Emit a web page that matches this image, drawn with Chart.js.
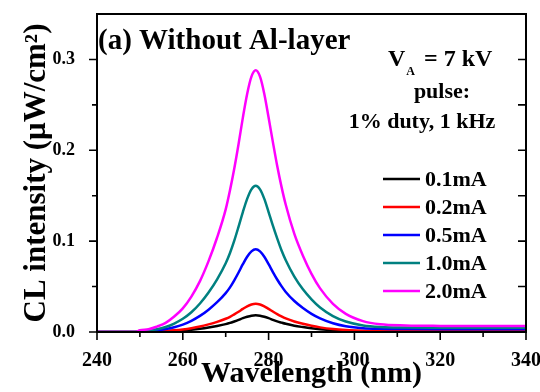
<!DOCTYPE html>
<html>
<head>
<meta charset="utf-8">
<script src="https://cdn.jsdelivr.net/npm/chart.js@4.4.1/dist/chart.umd.min.js"></script>
<style>
  html, body { margin: 0; padding: 0; background: #fff; }
  #wrap { width: 540px; height: 392px; position: relative; }
</style>
</head>
<body>
<div id="wrap"><canvas id="cl-chart"></canvas></div>
<script>
// Wavelength samples (nm)
var wavelengths = [240, 249, 250, 252, 254, 256, 258, 260, 262, 264, 266, 268, 270, 271, 272, 273, 274, 275, 276, 277,
  278, 279, 280, 281, 282, 283, 284, 286, 288, 290, 292, 295, 298, 302, 306, 312, 320, 330, 340];

// CL intensity (uW/cm^2)
var current01 = [0, 0, 0, 0.0002, 0.0004, 0.0006, 0.0011, 0.0017, 0.0025, 0.0036, 0.005, 0.0067, 0.0087, 0.01, 0.0116, 0.0133, 0.0152, 0.0168, 0.018, 0.0185,
  0.018, 0.0168, 0.0152, 0.0134, 0.0117, 0.0103, 0.009, 0.0069, 0.0054, 0.0041, 0.0031, 0.002, 0.0013, 0.0008, 0.0006, 0.0005, 0.0004, 0.0004, 0.0004];
var current02 = [0, 0, 0, 0.0003, 0.0006, 0.0011, 0.0018, 0.0028, 0.0042, 0.006, 0.0084, 0.0112, 0.0146, 0.0167, 0.0194, 0.0223, 0.0254, 0.0282, 0.0302, 0.031,
  0.0302, 0.0282, 0.0254, 0.0225, 0.0197, 0.0172, 0.015, 0.0116, 0.009, 0.0068, 0.0051, 0.0033, 0.0022, 0.0014, 0.0011, 0.001, 0.001, 0.001, 0.001];
var current05 = [0, 0, 0.0005, 0.001, 0.0018, 0.0032, 0.0053, 0.0082, 0.0123, 0.0177, 0.0246, 0.0328, 0.0428, 0.0491, 0.0569, 0.0655, 0.0746, 0.0828, 0.0887, 0.091,
  0.0887, 0.0828, 0.0746, 0.066, 0.0578, 0.0505, 0.0441, 0.0341, 0.0264, 0.02, 0.015, 0.0096, 0.0063, 0.0042, 0.0035, 0.0032, 0.003, 0.003, 0.003];
var current10 = [0, 0, 0.001, 0.0017, 0.003, 0.0055, 0.0093, 0.0145, 0.0217, 0.0314, 0.0435, 0.058, 0.0757, 0.087, 0.1006, 0.116, 0.132, 0.1465, 0.157, 0.161,
  0.157, 0.1465, 0.132, 0.117, 0.103, 0.09, 0.079, 0.061, 0.047, 0.036, 0.027, 0.0175, 0.0115, 0.0072, 0.0055, 0.0049, 0.0047, 0.0046, 0.0046];
var current20 = [0, 0, 0.002, 0.003, 0.006, 0.01, 0.017, 0.026, 0.039, 0.056, 0.078, 0.104, 0.135, 0.156, 0.18, 0.207, 0.236, 0.262, 0.281, 0.288,
  0.281, 0.262, 0.236, 0.209, 0.183, 0.16, 0.14, 0.108, 0.084, 0.064, 0.048, 0.031, 0.02, 0.012, 0.0085, 0.0072, 0.0067, 0.0065, 0.0065];

var seriesLabels = ['0.1mA', '0.2mA', '0.5mA', '1.0mA', '2.0mA'];
var seriesColors = ['#000000', '#ff0000', '#0000ff', '#008080', '#ff00ff'];
var seriesValues = [current01, current02, current05, current10, current20];

var xTickValues = [240, 260, 280, 300, 320, 340];
var yTickValues = [0.0, 0.1, 0.2, 0.3];

var serif = '"Liberation Serif", "Times New Roman", serif';

function toPoints(values) {
  return values.map(function(v, i) { return { x: wavelengths[i], y: v }; });
}

var datasets = seriesValues.map(function(values, i) {
  return {
    label: seriesLabels[i],
    data: toPoints(values),
    borderColor: seriesColors[i],
    backgroundColor: seriesColors[i],
    borderWidth: 2.5,
    pointRadius: 0,
    cubicInterpolationMode: 'monotone',
    fill: false,
    order: seriesValues.length - i
  };
});

// keep the plot area fixed: drop the label overflow padding the scales ask for
function fixPadding(scale) {
  scale.paddingLeft = 0;
  scale.paddingRight = 0;
  scale.paddingTop = 0;
  scale.paddingBottom = 0;
}

// Frame, inner/outer tick marks, legend and text labels
var decorations = {
  id: 'decorations',
  afterDraw: function(chart) {
    var ctx = chart.ctx;
    var area = chart.chartArea;
    var xs = chart.scales.x;
    var ys = chart.scales.y;

    ctx.save();
    ctx.strokeStyle = '#000';
    ctx.lineWidth = 2;
    ctx.strokeRect(area.left, area.top, area.right - area.left, area.bottom - area.top);

    // x ticks (outward)
    ctx.lineWidth = 1.6;
    for (var w = 240; w <= 340; w += 10) {
      var px = xs.getPixelForValue(w);
      var len = (w % 20 === 0) ? 8 : 5;
      ctx.beginPath();
      ctx.moveTo(px, area.bottom);
      ctx.lineTo(px, area.bottom + len);
      ctx.stroke();
    }
    // y ticks (outward left, inward right)
    for (var k = 0; k <= 6; k++) {
      var py = ys.getPixelForValue(k * 0.05);
      var l = (k % 2 === 0) ? 8 : 5;
      ctx.beginPath();
      ctx.moveTo(area.left - l, py);
      ctx.lineTo(area.left, py);
      ctx.moveTo(area.right - 8, py);
      ctx.lineTo(area.right, py);
      ctx.stroke();
    }

    // legend
    ctx.textAlign = 'left';
    ctx.textBaseline = 'middle';
    ctx.font = 'bold 22px ' + serif;
    chart.data.datasets.forEach(function(ds, i) {
      var ry = 179 + i * 28;
      ctx.strokeStyle = ds.borderColor;
      ctx.lineWidth = 2.5;
      ctx.beginPath();
      ctx.moveTo(383, ry);
      ctx.lineTo(420, ry);
      ctx.stroke();
      ctx.fillStyle = '#000';
      ctx.fillText(ds.label, 425, ry + 1);
    });

    // annotations
    ctx.fillStyle = '#000';
    ctx.textBaseline = 'alphabetic';
    ctx.font = 'bold 29px ' + serif;
    ctx.fillText('(a) Without Al-layer', 98, 49);

    ctx.font = 'bold 24px ' + serif;
    ctx.fillText('V', 388, 66);
    var vw = ctx.measureText('V').width;
    ctx.font = 'bold 12px ' + serif;
    ctx.fillText('A', 388 + vw + 1, 75);
    var aw = ctx.measureText('A').width;
    ctx.font = 'bold 24px ' + serif;
    ctx.fillText('= 7 kV', 388 + vw + aw + 10, 66);

    ctx.textAlign = 'center';
    ctx.font = 'bold 22px ' + serif;
    ctx.fillText('pulse:', 442, 98);
    ctx.fillText('1% duty, 1 kHz', 422, 128);
    ctx.restore();
  }
};

var chart = new Chart(document.getElementById('cl-chart'), {
  type: 'line',
  data: { datasets: datasets },
  options: {
    responsive: true,
    maintainAspectRatio: false,
    animation: false,
    layout: { padding: { top: 14, right: 14, left: 0, bottom: 0 } },
    plugins: {
      legend: { display: false },
      tooltip: { enabled: false }
    },
    scales: {
      x: {
        type: 'linear',
        min: 240,
        max: 340,
        afterFit: function(scale) { scale.height = 60; fixPadding(scale); },
        afterBuildTicks: function(scale) {
          scale.ticks = xTickValues.map(function(v) { return { value: v }; });
        },
        grid: { display: false, drawTicks: false },
        border: { display: false },
        ticks: {
          padding: 17,
          color: '#000',
          font: { family: serif, size: 20, weight: 'bold' },
          callback: function(v) { return String(v); }
        },
        title: {
          display: true,
          text: 'Wavelength (nm)',
          color: '#000',
          padding: { top: 0, bottom: 0 },
          font: { family: serif, size: 30, weight: 'bold' }
        }
      },
      y: {
        type: 'linear',
        min: 0,
        max: 0.35,
        afterFit: function(scale) { scale.width = 97; fixPadding(scale); },
        afterBuildTicks: function(scale) {
          scale.ticks = yTickValues.map(function(v) { return { value: v }; });
        },
        grid: { display: false, drawTicks: false },
        border: { display: false },
        ticks: {
          padding: 22,
          color: '#000',
          font: { family: serif, size: 18, weight: 'bold' },
          callback: function(v) { return v.toFixed(1); }
        },
        title: {
          display: true,
          text: 'CL intensity (\u03bcW/cm\u00b2)',
          color: '#000',
          padding: { top: 18, bottom: 0 },
          font: { family: serif, size: 31, weight: 'bold' }
        }
      }
    }
  },
  plugins: [decorations]
});
</script>
</body>
</html>
